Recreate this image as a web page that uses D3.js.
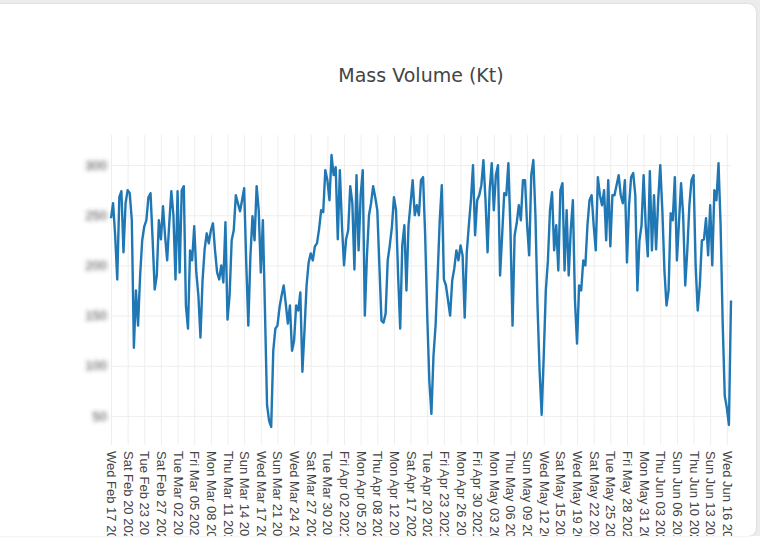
<!DOCTYPE html>
<html>
<head>
<meta charset="utf-8">
<script src="https://cdn.jsdelivr.net/npm/d3@7"></script>
<style>
  body { margin: 0; background: #ececec; }
  #card { position: absolute; left: -10px; top: 4px; width: 766px; height: 532px;
          background: #fff; border-radius: 8px; box-shadow: 0 0 2px rgba(0,0,0,0.15); overflow: hidden; }
  #bottom { position: absolute; left: 0; top: 536px; width: 760px; height: 16px; background: #fff; }
</style>
</head>
<body>
<div id="bottom"></div>
<div id="card"><div id="chart"></div></div>
<script>
// data, one value per sample (Kt)
var volume = [
  247,262,230,186,268,274,213,262,275,272,
  245,118,175,140,190,225,239,245,268,272,
  226,176,190,245,226,259,229,205,242,274,
  250,186,274,193,275,279,160,137,215,205,
  239,193,170,128,185,216,232,222,235,242,
  215,193,186,200,183,243,146,170,225,235,
  270,262,254,265,277,203,140,209,249,225,
  279,255,193,245,155,61,45,39,115,137,
  140,158,170,180,162,142,160,115,125,160,
  155,173,94,135,180,203,212,205,219,222,
  236,255,253,295,285,265,310,290,298,226,
  295,240,200,226,235,279,262,196,290,215,
  270,295,150,209,250,262,279,268,255,200,
  145,143,152,205,220,238,268,255,190,137,
  220,240,175,240,262,285,250,260,250,285,
  288,230,150,85,52,110,140,190,245,280,
  186,180,165,150,185,197,215,205,220,210,
  148,213,240,265,300,230,265,270,280,305,
  265,213,275,302,255,290,300,190,230,272,
  270,302,235,140,230,242,260,245,285,285,
  240,210,290,305,250,160,95,51,110,175,
  205,255,273,215,240,195,275,282,195,255,
  190,236,265,165,122,180,175,205,200,240,
  265,270,240,215,288,270,260,275,225,285,
  219,270,270,280,290,270,262,285,203,260,
  288,292,270,175,225,240,290,240,209,294,
  215,270,216,265,300,255,195,160,175,252,
  245,288,205,243,282,250,180,215,260,285,
  290,200,155,180,225,226,247,210,260,200,
  275,265,302,240,143,70,58,41,165
];

// one label every 8 samples
var tickEvery = 8;
var tickLabels = [
  "Wed Feb 17 2021","Sat Feb 20 2021","Tue Feb 23 2021","Sat Feb 27 2021",
  "Tue Mar 02 2021","Fri Mar 05 2021","Mon Mar 08 2021","Thu Mar 11 2021",
  "Sun Mar 14 2021","Wed Mar 17 2021","Sun Mar 21 2021","Wed Mar 24 2021",
  "Sat Mar 27 2021","Tue Mar 30 2021","Fri Apr 02 2021","Mon Apr 05 2021",
  "Thu Apr 08 2021","Mon Apr 12 2021","Sat Apr 17 2021","Tue Apr 20 2021",
  "Fri Apr 23 2021","Mon Apr 26 2021","Fri Apr 30 2021","Mon May 03 2021",
  "Thu May 06 2021","Sun May 09 2021","Wed May 12 2021","Sat May 15 2021",
  "Wed May 19 2021","Sat May 22 2021","Tue May 25 2021","Fri May 28 2021",
  "Mon May 31 2021","Thu Jun 03 2021","Sun Jun 06 2021","Thu Jun 10 2021",
  "Sun Jun 13 2021","Wed Jun 16 2021"
];
var yTicks = [50, 100, 150, 200, 250, 300];

var margin = { top: 131, right: 25, bottom: 91, left: 121 };
var W = 766, H = 532;
var w = W - margin.left - margin.right;
var h = H - margin.top - margin.bottom;

var svg = d3.select('#chart').append('svg')
    .attr('width', W)
    .attr('height', H)
    .style('font-family', '"DejaVu Sans", verdana, sans-serif');

// blur for the y labels
svg.append('defs').append('filter')
    .attr('id', 'blur')
    .attr('x', '-50%').attr('y', '-50%').attr('width', '200%').attr('height', '200%')
  .append('feGaussianBlur')
    .attr('stdDeviation', 2.2);

var g = svg.append('g')
    .attr('transform', 'translate(' + margin.left + ',' + margin.top + ')');

var x = d3.scaleLinear()
    .domain([0, volume.length - 1])
    .range([0, w]);

var y = d3.scaleLinear()
    .domain([21, 330])
    .range([h, 0]);

var tickIdx = tickLabels.map(function (d, i) { return i * tickEvery; });

// grid
var yAxis = d3.axisLeft(y).tickValues(yTicks).tickSize(-w).tickPadding(4);
var gy = g.append('g').call(yAxis);
gy.select('.domain').remove();
gy.selectAll('line').attr('stroke', '#eeeeee');
gy.selectAll('text')
    .attr('fill', '#444')
    .attr('font-size', 13)
    .attr('filter', 'url(#blur)');

var xAxis = d3.axisBottom(x)
    .tickValues(tickIdx)
    .tickSize(-h)
    .tickFormat(function (d, i) { return tickLabels[i]; });
var gx = g.append('g')
    .attr('transform', 'translate(0,' + h + ')')
    .call(xAxis);
gx.select('.domain').remove();
gx.selectAll('line').attr('stroke', '#eeeeee');
gx.selectAll('text')
    .attr('fill', '#444')
    .attr('font-size', 13)
    .attr('text-anchor', 'start')
    .attr('dominant-baseline', 'central')
    .attr('transform', 'rotate(90)')
    .attr('x', 6)
    .attr('y', 0)
    .attr('dy', null);

// line
var line = d3.line()
    .x(function (d, i) { return x(i); })
    .y(function (d) { return y(d); });

g.append('path')
    .datum(volume)
    .attr('fill', 'none')
    .attr('stroke', '#1f77b4')
    .attr('stroke-width', 2.4)
    .attr('stroke-linejoin', 'round')
    .attr('d', line);

// title
svg.append('text')
    .attr('x', margin.left + w / 2)
    .attr('y', 78)
    .attr('text-anchor', 'middle')
    .attr('fill', '#444')
    .attr('font-size', 19)
    .text('Mass Volume (Kt)');
</script>
</body>
</html>
